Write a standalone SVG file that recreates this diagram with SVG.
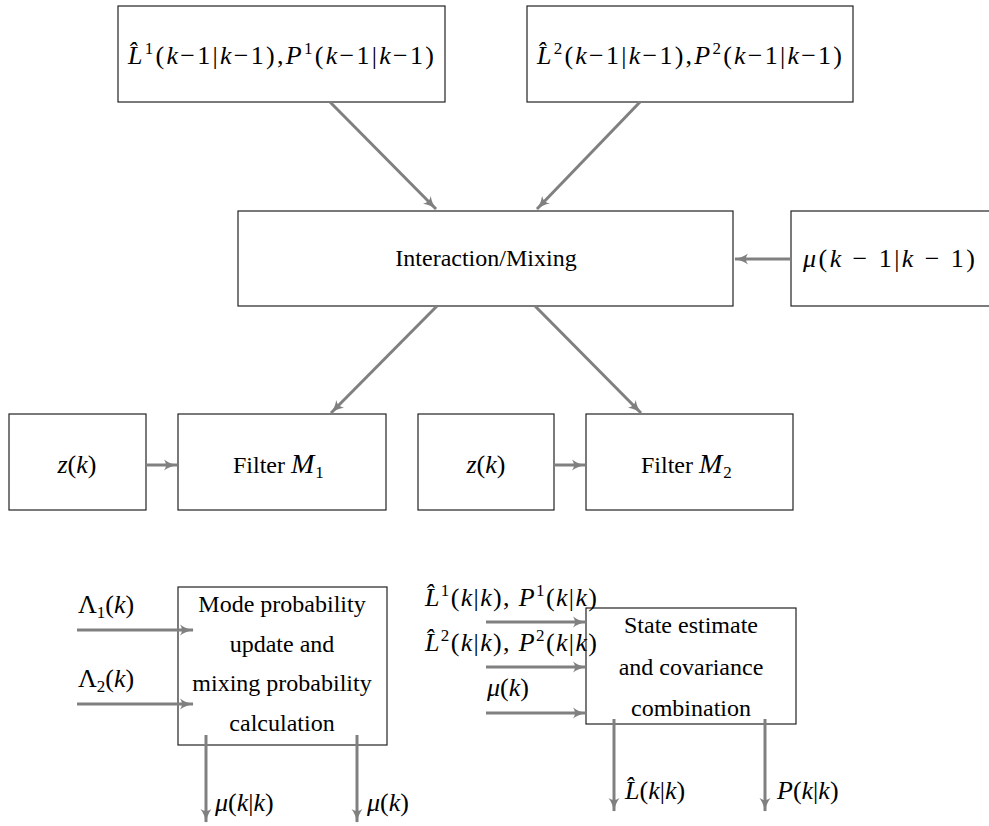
<svg xmlns="http://www.w3.org/2000/svg" width="989" height="826" viewBox="0 0 989 826">
<style>
.box{fill:#fff;stroke:#222;stroke-width:1.2}
.t{font-family:"Liberation Serif","Times New Roman",serif;font-size:24px;fill:#000}
.m{font-family:"Liberation Serif","Times New Roman",serif;font-size:26px;fill:#000}
.i{font-style:italic}
.c{text-anchor:middle}
.s{font-size:17px}
.ar{stroke:#808080;stroke-width:3;fill:none;marker-end:url(#ah)}
</style>
<defs>
<marker id="ah" markerUnits="userSpaceOnUse" markerWidth="16" markerHeight="12" refX="13" refY="6" orient="auto" viewBox="0 0 16 12">
<path d="M0,0.5 Q6,5 14,6 Q6,7 0,11.5 Q4,6 0,0.5 Z" fill="#808080"/>
</marker>
</defs>
<rect width="989" height="826" fill="#fff"/>

<g id="n_L1">
<rect class="box" x="118" y="6" width="327" height="96"/>
<text class="m" x="128" y="64" textLength="306" lengthAdjust="spacing"><tspan class="i">L&#x302;</tspan><tspan class="s" dy="-10">1</tspan><tspan dy="10">(</tspan><tspan class="i">k</tspan>−1|<tspan class="i">k</tspan>−1),<tspan class="i">P</tspan><tspan class="s" dy="-10">1</tspan><tspan dy="10">(</tspan><tspan class="i">k</tspan>−1|<tspan class="i">k</tspan>−1)</text>
</g>

<g id="n_L2">
<rect class="box" x="527" y="6" width="326" height="96"/>
<text class="m" x="537" y="64" textLength="305" lengthAdjust="spacing"><tspan class="i">L&#x302;</tspan><tspan class="s" dy="-10">2</tspan><tspan dy="10">(</tspan><tspan class="i">k</tspan>−1|<tspan class="i">k</tspan>−1),<tspan class="i">P</tspan><tspan class="s" dy="-10">2</tspan><tspan dy="10">(</tspan><tspan class="i">k</tspan>−1|<tspan class="i">k</tspan>−1)</text>
</g>

<g id="n_mix">
<rect class="box" x="238" y="211" width="495" height="95"/>
<text class="t c" x="486" y="266">Interaction/Mixing</text>
</g>

<g id="n_mu">
<rect class="box" x="791" y="211" width="210" height="95"/>
<text class="m" x="803" y="267" textLength="172" lengthAdjust="spacing"><tspan class="i">μ</tspan>(<tspan class="i">k</tspan> − 1|<tspan class="i">k</tspan> − 1)</text>
</g>

<g id="n_z1">
<rect class="box" x="9" y="414" width="137" height="96"/>
<text class="m c" x="77" y="473"><tspan class="i">z</tspan>(<tspan class="i">k</tspan>)</text>
</g>

<g id="n_f1">
<rect class="box" x="178" y="414" width="208" height="96"/>
<text class="t" x="233" y="473">Filter <tspan class="i" font-size="28">M</tspan><tspan class="s" dx="1" dy="5">1</tspan></text>
</g>

<g id="n_z2">
<rect class="box" x="418" y="414" width="136" height="96"/>
<text class="m c" x="486" y="473"><tspan class="i">z</tspan>(<tspan class="i">k</tspan>)</text>
</g>

<g id="n_f2">
<rect class="box" x="586" y="414" width="207" height="96"/>
<text class="t" x="641" y="473">Filter <tspan class="i" font-size="28">M</tspan><tspan class="s" dx="1" dy="5">2</tspan></text>
</g>

<g id="n_mode">
<rect class="box" x="178" y="587" width="209" height="158"/>
<text class="t c" x="282" y="612">Mode probability</text>
<text class="t c" x="282" y="652">update and</text>
<text class="t c" x="282" y="691">mixing probability</text>
<text class="t c" x="282" y="731">calculation</text>
</g>

<g id="n_state">
<rect class="box" x="586" y="608" width="210" height="116"/>
<text class="t c" x="691" y="633">State estimate</text>
<text class="t c" x="691" y="675">and covariance</text>
<text class="t c" x="691" y="716">combination</text>
</g>

<g id="connectors">
<line class="ar" x1="330" y1="102" x2="436" y2="209"/>
<line class="ar" x1="640" y1="102" x2="537" y2="209"/>
<line class="ar" x1="791" y1="259" x2="735" y2="259"/>
<line class="ar" x1="437" y1="306" x2="331" y2="413"/>
<line class="ar" x1="535" y1="306" x2="641" y2="413"/>
<line class="ar" x1="146" y1="465" x2="177" y2="465"/>
<line class="ar" x1="554" y1="465" x2="585" y2="465"/>
<line class="ar" x1="77" y1="630" x2="193" y2="630"/>
<line class="ar" x1="77" y1="704" x2="193" y2="704"/>
<line class="ar" x1="206" y1="735" x2="206" y2="822"/>
<line class="ar" x1="357" y1="735" x2="357" y2="822"/>
<line class="ar" x1="486" y1="622" x2="586" y2="622"/>
<line class="ar" x1="486" y1="667" x2="586" y2="667"/>
<line class="ar" x1="486" y1="713" x2="586" y2="713"/>
<line class="ar" x1="614" y1="719" x2="614" y2="811"/>
<line class="ar" x1="765" y1="719" x2="765" y2="811"/>
</g>

<g id="labels">
<text class="m" x="78" y="613">Λ<tspan class="s" dy="5">1</tspan><tspan dy="-5">(</tspan><tspan class="i">k</tspan>)</text>
<text class="m" x="78" y="687">Λ<tspan class="s" dy="5">2</tspan><tspan dy="-5">(</tspan><tspan class="i">k</tspan>)</text>
<text class="m" x="215" y="811"><tspan class="i">μ</tspan>(<tspan class="i">k</tspan>|<tspan class="i">k</tspan>)</text>
<text class="m" x="367" y="811"><tspan class="i">μ</tspan>(<tspan class="i">k</tspan>)</text>
<text class="m" x="425" y="606" textLength="172" lengthAdjust="spacing"><tspan class="i">L&#x302;</tspan><tspan class="s" dy="-10">1</tspan><tspan dy="10">(</tspan><tspan class="i">k</tspan>|<tspan class="i">k</tspan>), <tspan class="i">P</tspan><tspan class="s" dy="-10">1</tspan><tspan dy="10">(</tspan><tspan class="i">k</tspan>|<tspan class="i">k</tspan>)</text>
<text class="m" x="425" y="651" textLength="172" lengthAdjust="spacing"><tspan class="i">L&#x302;</tspan><tspan class="s" dy="-10">2</tspan><tspan dy="10">(</tspan><tspan class="i">k</tspan>|<tspan class="i">k</tspan>), <tspan class="i">P</tspan><tspan class="s" dy="-10">2</tspan><tspan dy="10">(</tspan><tspan class="i">k</tspan>|<tspan class="i">k</tspan>)</text>
<text class="m" x="487" y="696"><tspan class="i">μ</tspan>(<tspan class="i">k</tspan>)</text>
<text class="m" x="625" y="799"><tspan class="i">L&#x302;</tspan>(<tspan class="i">k</tspan>|<tspan class="i">k</tspan>)</text>
<text class="m" x="777" y="799"><tspan class="i">P</tspan>(<tspan class="i">k</tspan>|<tspan class="i">k</tspan>)</text>
</g>
</svg>
